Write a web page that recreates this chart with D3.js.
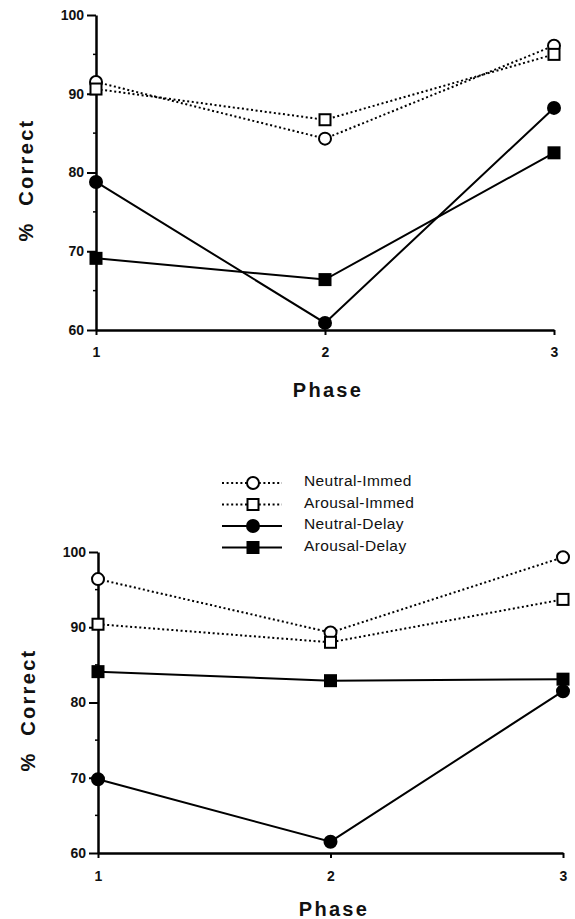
<!DOCTYPE html>
<html>
<head>
<meta charset="utf-8">
<script src="https://cdn.jsdelivr.net/npm/d3@7"></script>
<style>
body { margin: 0; background: #ffffff; }
svg { display: block; font-family: "Liberation Sans", Arial, sans-serif; }
.tickText { font-size: 14px; font-weight: bold; fill: #111; }
.axisTitle { font-size: 20px; font-weight: bold; fill: #111; letter-spacing: 2.3px; }
.legendLabel { font-size: 15.5px; fill: #111; letter-spacing: 0.4px; }
</style>
</head>
<body>
<script>
//two panels, % correct by phase for four conditions

var phases = [1, 2, 3];
var seriesNames = ["Neutral-Immed", "Arousal-Immed", "Neutral-Delay", "Arousal-Delay"];
var yTicks = [60, 70, 80, 90, 100];
var yMinorTicks = [65, 75, 85, 95];

//top panel
var topNeutralImmed = [91.5, 84.3, 96.1];
var topArousalImmed = [90.6, 86.7, 95.0];
var topNeutralDelay = [78.8, 60.9, 88.2];
var topArousalDelay = [69.1, 66.4, 82.5];

//bottom panel
var bottomNeutralImmed = [96.4, 89.3, 99.3];
var bottomArousalImmed = [90.4, 88.0, 93.7];
var bottomNeutralDelay = [69.8, 61.5, 81.5];
var bottomArousalDelay = [84.1, 82.9, 83.1];

var WIDTH = 575;
var HEIGHT = 919;

var LINE_WIDTH = 2;
var DOT_DASH = "2,2.6";
var CIRCLE_R = 6;
var SQUARE_SIZE = 11;

var svg = d3.select("body").append("svg")
	.attr("width", WIDTH)
	.attr("height", HEIGHT);

//style per series: dotted/solid, marker shape, filled or open
var seriesStyle = [
	{dashed: true, shape: "circle", filled: false},
	{dashed: true, shape: "square", filled: false},
	{dashed: false, shape: "circle", filled: true},
	{dashed: false, shape: "square", filled: true}
];

function drawMarker(g, style, cx, cy) {
	if (style.shape == "circle") {
		g.append("circle")
			.attr("cx", cx)
			.attr("cy", cy)
			.attr("r", CIRCLE_R)
			.attr("fill", style.filled ? "#000" : "#fff")
			.attr("stroke", "#000")
			.attr("stroke-width", 2);
	} else {
		g.append("rect")
			.attr("x", cx - SQUARE_SIZE / 2)
			.attr("y", cy - SQUARE_SIZE / 2)
			.attr("width", SQUARE_SIZE)
			.attr("height", SQUARE_SIZE)
			.attr("fill", style.filled ? "#000" : "#fff")
			.attr("stroke", "#000")
			.attr("stroke-width", 2);
	}
}

function drawPanel(panel) {
	var x = d3.scaleLinear().domain([1, 3]).range([panel.left, panel.right]);
	var y = d3.scaleLinear().domain([60, 100]).range([panel.bottom, panel.top]);

	var g = svg.append("g");

	//y axis
	var yAxis = g.append("g")
		.attr("transform", "translate(" + panel.left + ",0)")
		.call(d3.axisLeft(y).tickValues(yTicks).tickSize(9).tickSizeOuter(0).tickPadding(3));
	yAxis.attr("font-size", null).attr("font-family", null);
	yAxis.select(".domain").attr("stroke-width", 2.5);
	yAxis.selectAll(".tick line").attr("stroke-width", 2);
	yAxis.selectAll(".tick text").attr("class", "tickText");

	g.selectAll(".minorTick")
		.data(yMinorTicks)
		.enter()
		.append("line")
		.attr("class", "minorTick")
		.attr("x1", panel.left - 3)
		.attr("x2", panel.left)
		.attr("y1", function(d) { return y(d); })
		.attr("y2", function(d) { return y(d); })
		.attr("stroke", "#000")
		.attr("stroke-width", 1.5);

	//x axis
	var xAxis = g.append("g")
		.attr("transform", "translate(0," + panel.bottom + ")")
		.call(d3.axisBottom(x).tickValues(phases).tickFormat(d3.format("d")).tickSize(5).tickSizeOuter(0).tickPadding(panel.xPad));
	xAxis.attr("font-size", null).attr("font-family", null);
	xAxis.select(".domain").attr("stroke-width", 2.5);
	xAxis.selectAll(".tick line").attr("stroke-width", 2);
	xAxis.selectAll(".tick text").attr("class", "tickText");

	//axis titles
	g.append("text")
		.attr("class", "axisTitle")
		.attr("transform", "translate(" + panel.yTitleX + "," + panel.yTitleY + ") rotate(-90)")
		.attr("text-anchor", "middle")
		.attr("xml:space", "preserve")
		.text("%  Correct");

	g.append("text")
		.attr("class", "axisTitle")
		.attr("x", panel.xTitleX)
		.attr("y", panel.xTitleY)
		.attr("text-anchor", "middle")
		.text("Phase");

	//lines
	var line = d3.line()
		.x(function(d, i) { return x(phases[i]); })
		.y(function(d) { return y(d); });

	panel.series.forEach(function(values, s) {
		g.append("path")
			.datum(values)
			.attr("d", line)
			.attr("fill", "none")
			.attr("stroke", "#000")
			.attr("stroke-width", LINE_WIDTH)
			.attr("stroke-dasharray", seriesStyle[s].dashed ? DOT_DASH : null);
	});

	//markers on top
	panel.series.forEach(function(values, s) {
		values.forEach(function(v, i) {
			drawMarker(g, seriesStyle[s], x(phases[i]), y(v));
		});
	});
}

drawPanel({
	left: 96, right: 554, top: 15, bottom: 330,
	xPad: 12,
	yTitleX: 33, yTitleY: 180,
	xTitleX: 328, xTitleY: 397,
	series: [topNeutralImmed, topArousalImmed, topNeutralDelay, topArousalDelay]
});

drawPanel({
	left: 98, right: 563, top: 552, bottom: 853,
	xPad: 13,
	yTitleX: 35, yTitleY: 710,
	xTitleX: 334, xTitleY: 916,
	series: [bottomNeutralImmed, bottomArousalImmed, bottomNeutralDelay, bottomArousalDelay]
});

//legend
var LEGEND_LINE_X1 = 222;
var LEGEND_LINE_X2 = 282;
var LEGEND_MARKER_X = 253;
var LEGEND_TEXT_X = 304;
var LEGEND_Y = 483;
var LEGEND_ROW = 21.5;

var legend = svg.append("g");

legend.selectAll(".legendItem")
	.data(seriesNames)
	.enter()
	.append("g")
	.attr("class", "legendItem")
	.attr("transform", function(d, i) {
		return "translate(0," + (LEGEND_Y + i * LEGEND_ROW) + ")";
	})
	.each(function(d, i) {
		var item = d3.select(this);
		var style = seriesStyle[i];
		item.append("line")
			.attr("x1", LEGEND_LINE_X1)
			.attr("x2", LEGEND_LINE_X2)
			.attr("y1", 0)
			.attr("y2", 0)
			.attr("stroke", "#000")
			.attr("stroke-width", LINE_WIDTH)
			.attr("stroke-dasharray", style.dashed ? DOT_DASH : null);
		drawMarker(item, style, LEGEND_MARKER_X, 0);
		item.append("text")
			.attr("class", "legendLabel")
			.attr("x", LEGEND_TEXT_X)
			.attr("y", 3)
			.text(d);
	});
</script>
</body>
</html>
